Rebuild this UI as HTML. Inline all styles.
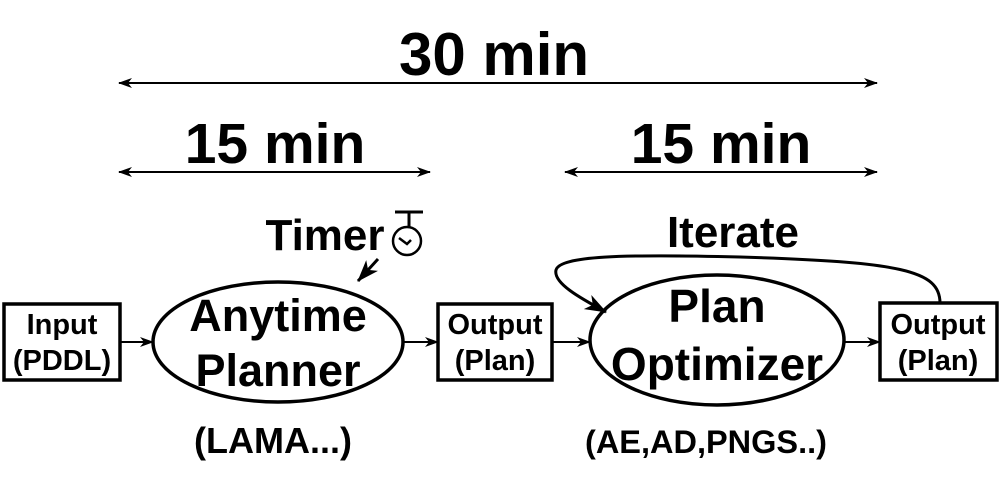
<!DOCTYPE html>
<html><head><style>html,body{margin:0;padding:0;background:#fff}svg{display:block}text{font-family:"Liberation Sans",sans-serif;font-weight:bold;fill:#000}</style></head>
<body>
<svg width="1000" height="485" viewBox="0 0 1000 485">
<defs>
<marker id="a" markerWidth="14" markerHeight="10" refX="13" refY="5" orient="auto-start-reverse" markerUnits="userSpaceOnUse"><path d="M0,0 L14,5 L0,10 L4,5 Z" fill="#000"/></marker>
<marker id="b" markerWidth="22" markerHeight="16" refX="21" refY="8" orient="auto" markerUnits="userSpaceOnUse"><path d="M0,0 L22,8 L0,16 L6,8 Z" fill="#000"/></marker>
</defs>
<g stroke="#000" fill="none">
<line x1="119" y1="83" x2="877" y2="83" stroke-width="2" marker-start="url(#a)" marker-end="url(#a)"/>
<line x1="119" y1="172" x2="430" y2="172" stroke-width="2" marker-start="url(#a)" marker-end="url(#a)"/>
<line x1="565" y1="172" x2="877" y2="172" stroke-width="2" marker-start="url(#a)" marker-end="url(#a)"/>
<rect x="4" y="304" width="116" height="76" stroke-width="3.5"/>
<ellipse cx="278" cy="342" rx="125" ry="60" stroke-width="3.5"/>
<rect x="438" y="304" width="114" height="76" stroke-width="3.5"/>
<ellipse cx="717" cy="340" rx="127" ry="65" stroke-width="3.5"/>
<rect x="880" y="303" width="117" height="77" stroke-width="3.5"/>
<line x1="120" y1="342" x2="153" y2="342" stroke-width="2" marker-end="url(#a)"/>
<line x1="403" y1="342" x2="438" y2="342" stroke-width="2" marker-end="url(#a)"/>
<line x1="552" y1="342" x2="590" y2="342" stroke-width="2" marker-end="url(#a)"/>
<line x1="845" y1="342" x2="880" y2="342" stroke-width="2" marker-end="url(#a)"/>
<path d="M940,303 C940,270 900,262 740,257 C620,254 560,256 556,270 C553,283 580,298 606,312" stroke-width="3" marker-end="url(#b)"/>
<line x1="378" y1="259" x2="358" y2="281" stroke-width="3" marker-end="url(#b)"/>
<circle cx="407" cy="241" r="14" stroke-width="2.5"/>
<line x1="395" y1="212" x2="423" y2="212" stroke-width="3"/>
<line x1="409" y1="212" x2="409" y2="227" stroke-width="3"/>
<polyline points="399,238 407,244 411,240" stroke-width="2.5"/>
</g>
<text x="494" y="75" font-size="60" text-anchor="middle">30 min</text>
<text x="275" y="163" font-size="57" text-anchor="middle">15 min</text>
<text x="721" y="163" font-size="57" text-anchor="middle">15 min</text>
<text x="325" y="250" font-size="44" text-anchor="middle">Timer</text>
<text x="733" y="247" font-size="44" text-anchor="middle">Iterate</text>
<text x="62" y="334" font-size="29" text-anchor="middle">Input</text>
<text x="62" y="370" font-size="29" text-anchor="middle">(PDDL)</text>
<text x="278" y="331" font-size="45" text-anchor="middle">Anytime</text>
<text x="278" y="386" font-size="45" text-anchor="middle">Planner</text>
<text x="495" y="334" font-size="29" text-anchor="middle">Output</text>
<text x="495" y="370" font-size="29" text-anchor="middle">(Plan)</text>
<text x="717" y="322" font-size="46" text-anchor="middle">Plan</text>
<text x="717" y="380" font-size="46" text-anchor="middle">Optimizer</text>
<text x="938" y="334" font-size="29" text-anchor="middle">Output</text>
<text x="938" y="370" font-size="29" text-anchor="middle">(Plan)</text>
<text x="273" y="453" font-size="36" text-anchor="middle">(LAMA...)</text>
<text x="706" y="453" font-size="32.5" text-anchor="middle">(AE,AD,PNGS..)</text>
</svg>
</body></html>
